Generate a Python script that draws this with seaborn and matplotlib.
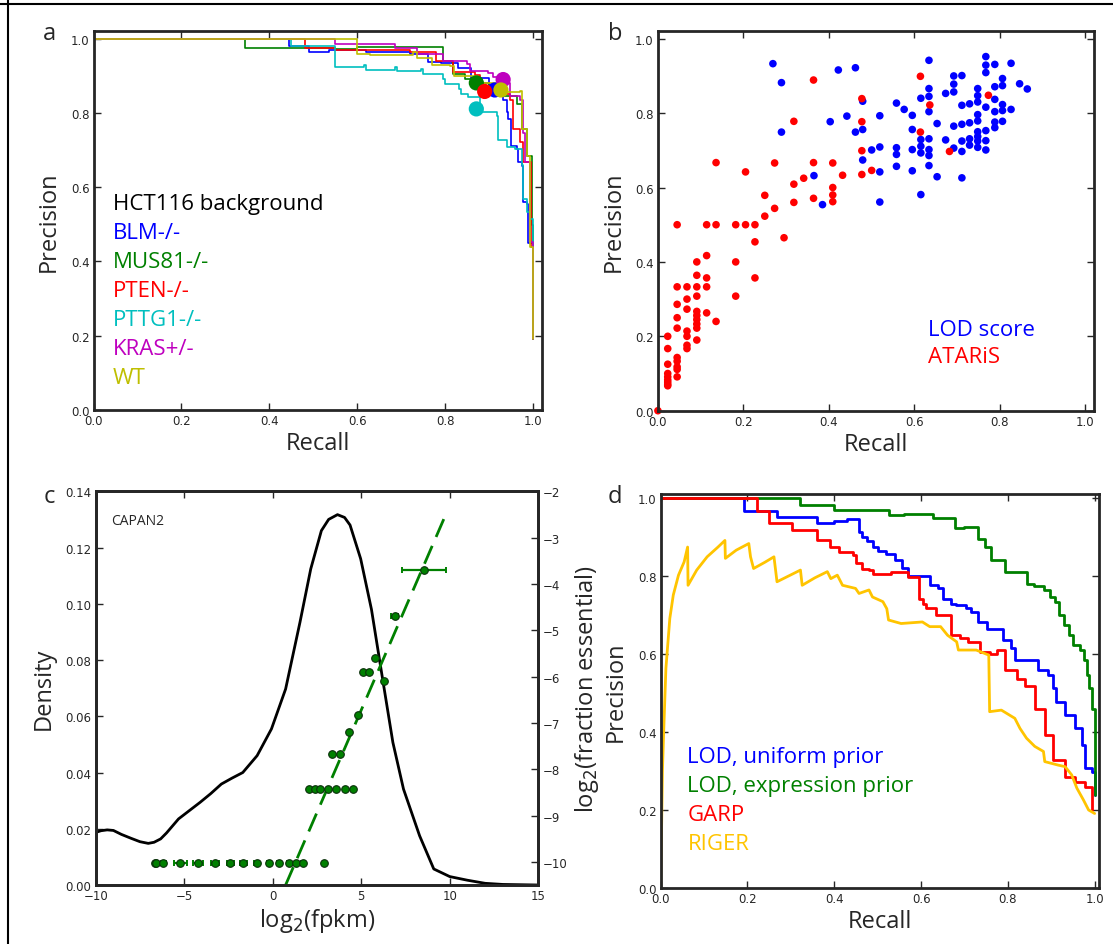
import numpy as np
import pandas as pd
import matplotlib
matplotlib.use("Agg")
import matplotlib.pyplot as plt
import seaborn as sns
from matplotlib.lines import Line2D

sns.set_style("ticks")
plt.rcParams['font.family'] = ['Open Sans', 'DejaVu Sans']
plt.rcParams['axes.unicode_minus'] = True

# colours (old matplotlib single-letter colours)
C_B, C_G, C_R = '#0000FF', '#008000', '#FF0000'
C_C, C_M, C_Y = '#00BFBF', '#BF00BF', '#BFBF00'
C_GOLD = '#FFC400'

# ---------------- panel a : PR curves per HCT116 background ----------------
blm_recall = [0, 0.445, 0.49, 0.535, 0.62, 0.72, 0.76, 0.79, 0.83, 0.86, 0.90, 0.932, 0.94, 0.944,
              0.951, 0.963, 0.966, 0.974, 0.978, 0.986, 0.989, 1.0]
blm_precision = [1.0, 0.98, 0.965, 0.97, 0.965, 0.96, 0.937, 0.935, 0.92, 0.895, 0.865, 0.834, 0.802,
                 0.784, 0.712, 0.703, 0.668, 0.658, 0.559, 0.555, 0.451, 0.19]
mus81_recall = [0, 0.345, 0.55, 0.60, 0.795, 0.815, 0.819, 0.845, 0.87, 0.90, 0.929, 0.963, 0.974,
                0.986, 0.997, 1.0]
mus81_precision = [1.0, 0.975, 0.972, 0.978, 0.941, 0.937, 0.906, 0.892, 0.88, 0.86, 0.847, 0.824,
                   0.757, 0.685, 0.497, 0.19]
pten_recall = [0, 0.48, 0.55, 0.72, 0.78, 0.819, 0.868, 0.879, 0.92, 0.948, 0.955, 0.970, 0.978,
               0.996, 1.0]
pten_precision = [1.0, 0.975, 0.97, 0.965, 0.94, 0.91, 0.901, 0.874, 0.85, 0.834, 0.757, 0.721,
                  0.668, 0.44, 0.19]
pttg1_recall = [0, 0.45, 0.55, 0.615, 0.619, 0.685, 0.69, 0.746, 0.75, 0.795, 0.80, 0.831, 0.835,
                0.852, 0.880, 0.917, 0.921, 0.941, 0.958, 0.974, 0.978, 0.986, 0.993, 1.0]
pttg1_precision = [1.0, 0.98, 0.924, 0.93, 0.917, 0.924, 0.912, 0.919, 0.906, 0.892, 0.879, 0.865,
                   0.852, 0.843, 0.802, 0.793, 0.726, 0.708, 0.704, 0.659, 0.569, 0.533, 0.515, 0.19]
kras_recall = [0, 0.55, 0.686, 0.735, 0.796, 0.849, 0.857, 0.898, 0.910, 0.929, 0.948, 0.970, 0.978,
               0.982, 0.993, 1.0]
kras_precision = [1.0, 0.987, 0.975, 0.96, 0.941, 0.932, 0.914, 0.909, 0.896, 0.882, 0.847, 0.834,
                  0.745, 0.668, 0.452, 0.19]
wt_recall = [0, 0.60, 0.63, 0.728, 0.735, 0.769, 0.811, 0.82, 0.872, 0.932, 0.970, 0.974, 0.986,
             0.993, 1.0]
wt_precision = [1.0, 0.96, 0.955, 0.965, 0.947, 0.929, 0.926, 0.90, 0.882, 0.856, 0.86, 0.757, 0.685,
                0.439, 0.19]

lines_a = ['BLM-/-', 'MUS81-/-', 'PTEN-/-', 'PTTG1-/-', 'KRAS+/-', 'WT']
colors_a = [C_B, C_G, C_R, C_C, C_M, C_Y]
op_recall = [0.913, 0.871, 0.89, 0.871, 0.932, 0.927]
op_precision = [0.862, 0.881, 0.858, 0.811, 0.890, 0.862]

# ---------------- panel b : per-cell-line precision / recall ----------------
lod_recall = [0.269, 0.289, 0.289, 0.365, 0.385, 0.403, 0.422, 0.442, 0.462, 0.462, 0.479, 0.479,
              0.479, 0.50, 0.519, 0.519, 0.519, 0.519, 0.558, 0.558, 0.558, 0.558, 0.576, 0.595,
              0.595, 0.595, 0.595, 0.615, 0.615, 0.615, 0.615, 0.615, 0.634, 0.634, 0.634, 0.634,
              0.634, 0.634, 0.634, 0.634, 0.653, 0.653, 0.673, 0.673, 0.692, 0.692, 0.692, 0.692,
              0.692, 0.711, 0.711, 0.711, 0.711, 0.711, 0.711, 0.729, 0.729, 0.729, 0.729, 0.748,
              0.748, 0.748, 0.748, 0.748, 0.748, 0.748, 0.748, 0.748, 0.767, 0.767, 0.767, 0.767,
              0.767, 0.767, 0.767, 0.788, 0.788, 0.788, 0.788, 0.788, 0.788, 0.806, 0.806, 0.806,
              0.806, 0.806, 0.826, 0.826, 0.846, 0.864]
lod_precision = [0.933, 0.882, 0.749, 0.632, 0.554, 0.777, 0.916, 0.792, 0.922, 0.749, 0.832, 0.756,
                 0.674, 0.701, 0.793, 0.709, 0.642, 0.561, 0.827, 0.707, 0.689, 0.657, 0.81, 0.794,
                 0.756, 0.702, 0.645, 0.84, 0.729, 0.711, 0.693, 0.581, 0.942, 0.866, 0.845, 0.804,
                 0.731, 0.702, 0.686, 0.659, 0.772, 0.629, 0.853, 0.728, 0.90, 0.878, 0.857, 0.765,
                 0.706, 0.901, 0.821, 0.77, 0.725, 0.697, 0.626, 0.825, 0.774, 0.731, 0.714, 0.866,
                 0.847, 0.83, 0.796, 0.779, 0.75, 0.737, 0.725, 0.708, 0.952, 0.929, 0.909, 0.816,
                 0.753, 0.726, 0.701, 0.931, 0.871, 0.837, 0.804, 0.776, 0.761, 0.893, 0.874, 0.823,
                 0.807, 0.778, 0.934, 0.81, 0.879, 0.865]
ataris_recall = [0.0,
                 0.023, 0.023, 0.023, 0.023, 0.023, 0.023, 0.023, 0.023, 0.023,
                 0.045, 0.045, 0.045, 0.045, 0.045, 0.045, 0.045, 0.045, 0.045, 0.045,
                 0.068, 0.068, 0.068, 0.068, 0.068, 0.068, 0.068,
                 0.091, 0.091, 0.091, 0.091, 0.091, 0.091, 0.091, 0.091, 0.091, 0.091,
                 0.114, 0.114, 0.114, 0.114, 0.114,
                 0.136, 0.136, 0.136,
                 0.182, 0.182, 0.182,
                 0.205, 0.205,
                 0.227, 0.227, 0.227,
                 0.25, 0.25, 0.273, 0.273, 0.295,
                 0.318, 0.318, 0.318, 0.341,
                 0.364, 0.364, 0.364,
                 0.409, 0.409, 0.409, 0.409, 0.432,
                 0.477, 0.477, 0.477, 0.477, 0.50,
                 0.614, 0.614, 0.636, 0.682, 0.773]
ataris_precision = [0.0,
                    0.2, 0.167, 0.125, 0.1, 0.091, 0.083, 0.077, 0.071, 0.067,
                    0.5, 0.333, 0.286, 0.25, 0.222, 0.143, 0.133, 0.118, 0.111, 0.091,
                    0.333, 0.3, 0.273, 0.214, 0.2, 0.176, 0.167,
                    0.4, 0.364, 0.333, 0.308, 0.267, 0.256, 0.245, 0.233, 0.222, 0.19,
                    0.5, 0.417, 0.357, 0.333, 0.263,
                    0.667, 0.5, 0.24,
                    0.5, 0.4, 0.308,
                    0.642, 0.5,
                    0.5, 0.454, 0.357,
                    0.579, 0.523, 0.666, 0.544, 0.465,
                    0.778, 0.609, 0.56, 0.625,
                    0.889, 0.667, 0.571,
                    0.666, 0.6, 0.58, 0.562, 0.633,
                    0.839, 0.777, 0.699, 0.635, 0.646,
                    0.899, 0.749, 0.822, 0.697, 0.848]

# ---------------- panel c : expression density and fraction essential ----------------
kde_x = [-10, -9.7, -9.35, -9.0, -8.55, -8.0, -7.5, -7.03, -6.7, -6.33, -6.0, -5.32, -4.7, -4.1,
         -3.5, -2.9, -2.3, -1.69, -0.88, -0.07, 0.73, 1.54, 2.15, 2.75, 3.16, 3.66, 4.06, 4.37,
         4.97, 5.58, 6.18, 6.79, 7.39, 8.3, 9.1, 10.0, 11.0, 12.0, 13.0, 15.0]
kde_density = [0.0187, 0.0193, 0.0196, 0.0194, 0.018, 0.0166, 0.0154, 0.0148, 0.0152, 0.0164,
               0.0185, 0.0235, 0.0265, 0.0294, 0.0325, 0.0359, 0.038, 0.040, 0.046, 0.0555,
               0.0697, 0.0934, 0.1124, 0.126, 0.130, 0.1317, 0.1307, 0.128, 0.116, 0.098, 0.0744,
               0.0507, 0.0341, 0.0175, 0.0057, 0.003, 0.0017, 0.0006, 0.0002, 0.0]
bin_x = [-6.67, -6.59, -6.17, -5.22, -4.21, -3.28, -2.41, -1.65, -0.90, -0.19, 0.37, 0.90, 1.34, 1.72,
         2.89, 2.07, 2.39, 2.67, 3.12, 3.60, 4.08, 4.55, 3.36, 3.82, 4.29, 4.81, 5.09, 5.44, 6.28,
         5.78, 6.89, 8.54]
bin_logfrac = [-10.03] * 15 + [-8.43] * 7 + [-7.68, -7.68, -7.2, -6.83, -5.9, -5.9, -6.09, -5.59,
                                               -4.69, -3.70]
bin_xerr = [0.05, 0.05, 0.15, 0.35, 0.3, 0.22, 0.2, 0.18, 0.15, 0.12, 0.1, 0.1, 0.1, 0.1, 0.05,
            0.05, 0.05, 0.05, 0.05, 0.05, 0.05, 0.05, 0.05, 0.05, 0.05, 0.05, 0.05, 0.05, 0.1,
            0.08, 0.2, 1.23]
fit_x = [0.73, 9.87]
fit_logfrac = [-10.5, -2.42]

# ---------------- panel d : method comparison ----------------
uniform_recall = [0, 0.191, 0.268, 0.361, 0.40, 0.43, 0.457, 0.465, 0.475, 0.49, 0.50, 0.52, 0.54,
                  0.555, 0.57, 0.62, 0.639, 0.650, 0.670, 0.681, 0.704, 0.716, 0.731, 0.751, 0.789,
                  0.808, 0.816, 0.870, 0.893, 0.905, 0.912, 0.932, 0.955, 0.970, 0.978, 0.993, 1.0]
uniform_precision = [1.0, 0.966, 0.951, 0.935, 0.94, 0.946, 0.913, 0.90, 0.89, 0.875, 0.865, 0.855,
                     0.84, 0.82, 0.80, 0.776, 0.768, 0.742, 0.729, 0.725, 0.718, 0.708, 0.682, 0.665,
                     0.635, 0.614, 0.584, 0.558, 0.546, 0.512, 0.478, 0.444, 0.409, 0.367, 0.307,
                     0.298, 0.239]
expr_recall = [0, 0.32, 0.40, 0.46, 0.525, 0.56, 0.628, 0.678, 0.70, 0.731, 0.748, 0.76, 0.793,
               0.843, 0.86, 0.884, 0.897, 0.909, 0.917, 0.93, 0.942, 0.95, 0.967, 0.975, 0.983,
               0.988, 0.994, 1.0]
expr_precision = [1.0, 0.983, 0.968, 0.970, 0.956, 0.958, 0.949, 0.922, 0.925, 0.894, 0.873, 0.84,
                  0.81, 0.78, 0.775, 0.765, 0.746, 0.733, 0.699, 0.674, 0.648, 0.623, 0.61, 0.584,
                  0.546, 0.512, 0.46, 0.238]
garp_recall = [0, 0.222, 0.249, 0.303, 0.361, 0.39, 0.41, 0.442, 0.449, 0.465, 0.48, 0.49, 0.53,
               0.569, 0.596, 0.604, 0.612, 0.635, 0.670, 0.689, 0.708, 0.735, 0.758, 0.775, 0.793,
               0.82, 0.839, 0.862, 0.885, 0.905, 0.932, 0.955, 0.978, 0.994]
garp_precision = [1.0, 0.966, 0.935, 0.917, 0.891, 0.874, 0.862, 0.853, 0.832, 0.819, 0.815, 0.804,
                  0.81, 0.798, 0.742, 0.729, 0.717, 0.70, 0.648, 0.642, 0.631, 0.605, 0.601, 0.609,
                  0.558, 0.536, 0.519, 0.459, 0.391, 0.327, 0.284, 0.271, 0.258, 0.20]
riger_recall = [0.0, 0.004, 0.0066, 0.012, 0.021, 0.029, 0.041, 0.054, 0.062, 0.063, 0.083, 0.107,
                0.132, 0.148, 0.149, 0.174, 0.203, 0.207, 0.214, 0.24, 0.261, 0.268, 0.295, 0.322,
                0.326, 0.355, 0.384, 0.392, 0.407, 0.419, 0.449, 0.457, 0.480, 0.488, 0.512, 0.521,
                0.525, 0.554, 0.603, 0.62, 0.645, 0.661, 0.682, 0.686, 0.727, 0.756, 0.758, 0.785,
                0.816, 0.828, 0.843, 0.862, 0.882, 0.885, 0.916, 0.932, 0.947, 0.959, 0.974, 0.986,
                1.0]
riger_precision = [0.0, 0.3, 0.392, 0.563, 0.691, 0.751, 0.802, 0.836, 0.874, 0.776, 0.815, 0.849,
                   0.874, 0.891, 0.845, 0.866, 0.883, 0.849, 0.819, 0.835, 0.849, 0.785, 0.80, 0.815,
                   0.776, 0.795, 0.811, 0.793, 0.802, 0.776, 0.768, 0.755, 0.764, 0.746, 0.734,
                   0.716, 0.687, 0.678, 0.682, 0.67, 0.67, 0.648, 0.631, 0.61, 0.61, 0.597, 0.452,
                   0.456, 0.435, 0.409, 0.384, 0.363, 0.35, 0.324, 0.315, 0.311, 0.29, 0.256, 0.226,
                   0.2, 0.191]

W, H = 1113, 945
fig = plt.figure(figsize=(W / 100, H / 100), dpi=100)
LABEL_FS = 17


def add_axes_px(left, top, right, bottom):
    return fig.add_axes([left / W, 1 - bottom / H, (right - left) / W, (bottom - top) / H])


def style_axes(ax, right=True):
    for sp in ax.spines.values():
        sp.set_linewidth(2)
        sp.set_visible(True)
    ax.tick_params(direction='in', length=5, width=1, top=True, right=right, labelsize=8.5,
                   labelfontfamily='DejaVu Sans', pad=3)


ax_a = add_axes_px(93.6, 32.3, 541.8, 411)
ax_b = add_axes_px(657.9, 32.3, 1094, 411.7)
ax_c = add_axes_px(95.7, 492.3, 538.2, 886)
ax_d = add_axes_px(660.7, 495, 1099, 889)

# ---- a ----
recalls_a = [blm_recall, mus81_recall, pten_recall, pttg1_recall, kras_recall, wt_recall]
precs_a = [blm_precision, mus81_precision, pten_precision, pttg1_precision, kras_precision, wt_precision]
df_a = pd.concat([pd.DataFrame({'recall': r, 'precision': p, 'line': n})
                  for n, r, p in zip(lines_a, recalls_a, precs_a)], ignore_index=True)
pal_a = dict(zip(lines_a, colors_a))
sns.lineplot(data=df_a, x='recall', y='precision', hue='line', palette=pal_a, estimator=None,
             sort=False, drawstyle='steps-post', lw=1.2, legend=False, ax=ax_a)
df_op = pd.DataFrame({'recall': op_recall, 'precision': op_precision, 'line': lines_a})
sns.scatterplot(data=df_op, x='recall', y='precision', hue='line', palette=pal_a, s=120,
                edgecolor='none', legend=False, zorder=5, ax=ax_a)
ax_a.set_xlim(0, 1.02)
ax_a.set_ylim(0, 1.02)
ax_a.set_xticks(np.arange(0, 1.01, 0.2))
ax_a.set_yticks(np.arange(0, 1.01, 0.2))
style_axes(ax_a)
ax_a.set_xlabel('Recall', fontsize=LABEL_FS, labelpad=3)
ax_a.set_ylabel('Precision', fontsize=LABEL_FS, labelpad=7)
ax_a.text(0.043, 0.544, 'HCT116 background', color='black', fontsize=16, va='center',
          transform=ax_a.transAxes)
for i, (n, c) in enumerate(zip(lines_a, colors_a)):
    ax_a.text(0.043, 0.544 - 0.0765 * (i + 1), n, color=c, fontsize=16, va='center',
              transform=ax_a.transAxes)

# ---- b ----
sns.scatterplot(x=lod_recall, y=lod_precision, color=C_B, s=30, edgecolor='none', ax=ax_b)
sns.scatterplot(x=ataris_recall, y=ataris_precision, color=C_R, s=30, edgecolor='none', ax=ax_b,
                clip_on=False)
ax_b.set_xlim(0, 1.02)
ax_b.set_ylim(0, 1.02)
ax_b.set_xticks(np.arange(0, 1.01, 0.2))
ax_b.set_yticks(np.arange(0, 1.01, 0.2))
style_axes(ax_b)
ax_b.set_xlabel('Recall', fontsize=LABEL_FS, labelpad=3)
ax_b.set_ylabel('Precision', fontsize=LABEL_FS, labelpad=7)
ax_b.text(0.62, 0.215, 'LOD score', color=C_B, fontsize=16, va='center', transform=ax_b.transAxes)
ax_b.text(0.62, 0.142, 'ATARiS', color=C_R, fontsize=16, va='center', transform=ax_b.transAxes)

# ---- c ----
sns.lineplot(x=kde_x, y=kde_density, color='black', lw=2, estimator=None, sort=False, ax=ax_c)
ax_c.set_xlim(-10, 15)
ax_c.set_ylim(0, 0.14)
ax_c.set_xticks([-10, -5, 0, 5, 10, 15])
ax_c.set_yticks(np.arange(0, 0.141, 0.02))
ax_c.set_yticklabels([f'{v:.2f}' for v in np.arange(0, 0.141, 0.02)])
style_axes(ax_c, right=False)
ax_c.set_xlabel('log$_2$(fpkm)', fontsize=LABEL_FS, labelpad=3)
ax_c.set_ylabel('Density', fontsize=LABEL_FS, labelpad=7)
ax_c.text(0.034, 0.925, 'CAPAN2', fontsize=10, va='center', transform=ax_c.transAxes)

ax_c2 = ax_c.twinx()
ax_c2.errorbar(bin_x, bin_logfrac, xerr=bin_xerr, fmt='none', ecolor=C_G, elinewidth=1.6,
               capsize=2.5, capthick=1.4, zorder=3)
sns.scatterplot(x=bin_x, y=bin_logfrac, color=C_G, s=30, edgecolor='#0b300b', linewidth=0.8,
                zorder=4, ax=ax_c2)
sns.lineplot(x=fit_x, y=fit_logfrac, color=C_G, lw=2, linestyle=(0, (7, 3.5)), estimator=None,
             ax=ax_c2)
ax_c2.set_ylim(-10.5, -2)
ax_c2.set_yticks(range(-2, -11, -1))
ax_c2.tick_params(direction='in', length=5, width=1, labelsize=8.5, labelfontfamily='DejaVu Sans',
                  pad=3)
ax_c2.set_ylabel('log$_2$(fraction essential)', fontsize=LABEL_FS, labelpad=4)
ax_c2.set_xlabel('')
for sp in ax_c2.spines.values():
    sp.set_linewidth(2)

# ---- d ----
curves_d = ['LOD, uniform prior', 'LOD, expression prior', 'GARP', 'RIGER']
colors_d = [C_B, C_G, C_R, C_GOLD]
df_d = pd.concat([pd.DataFrame({'recall': r, 'precision': p, 'method': n}) for n, r, p in
                  zip(curves_d[:3], [uniform_recall, expr_recall, garp_recall],
                      [uniform_precision, expr_precision, garp_precision])], ignore_index=True)
pal_d = dict(zip(curves_d, colors_d))
sns.lineplot(data=df_d, x='recall', y='precision', hue='method', palette=pal_d, estimator=None,
             sort=False, drawstyle='steps-post', lw=2, legend=False, ax=ax_d)
sns.lineplot(x=riger_recall, y=riger_precision, color=C_GOLD, lw=2, estimator=None, sort=False,
             ax=ax_d)
ax_d.set_xlim(0, 1.01)
ax_d.set_ylim(0, 1.01)
ax_d.set_xticks(np.arange(0, 1.01, 0.2))
ax_d.set_yticks(np.arange(0, 1.01, 0.2))
style_axes(ax_d)
ax_d.set_xlabel('Recall', fontsize=LABEL_FS, labelpad=3)
ax_d.set_ylabel('Precision', fontsize=LABEL_FS, labelpad=7)
for i, (n, c) in enumerate(zip(curves_d, colors_d)):
    ax_d.text(0.061, 0.334 - 0.0735 * i, n, color=c, fontsize=16, va='center',
              transform=ax_d.transAxes)

# panel letters
for letter, x, y in [('a', 49, 40), ('b', 615, 40), ('c', 49, 503), ('d', 615, 503)]:
    fig.text(x / W, 1 - y / H, letter, fontsize=17, ha='center', va='baseline')

# thin frame lines at top and left of the figure
fig.add_artist(Line2D([0, 1], [1 - 5 / H, 1 - 5 / H], transform=fig.transFigure, color='black', lw=1.5))
fig.add_artist(Line2D([8 / W, 8 / W], [0, 1], transform=fig.transFigure, color='black', lw=1.5))

plt.savefig('out.png', dpi=100)
